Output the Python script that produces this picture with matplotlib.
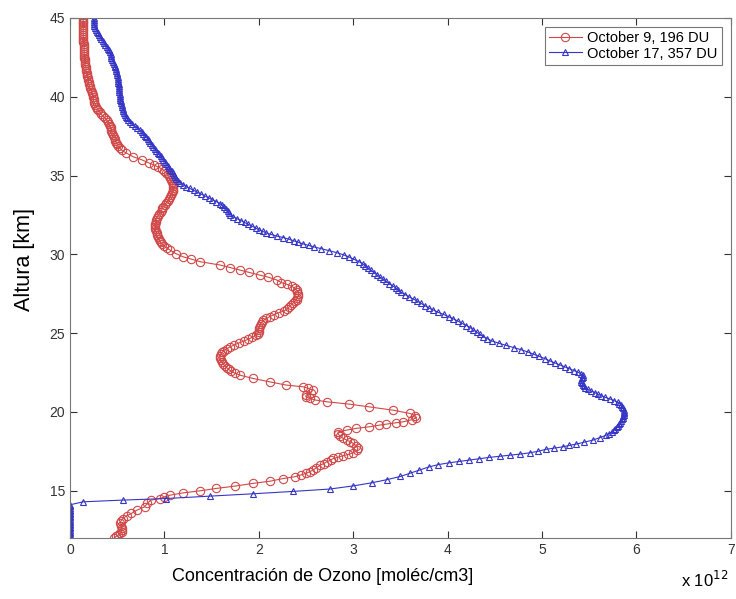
import matplotlib
matplotlib.use('Agg')
import matplotlib.pyplot as plt

plt.rcParams['font.family'] = ['Liberation Sans', 'DejaVu Sans']

# October 9, 196 DU  (altitude km, concentration x1e12)
alt_oct9 = [12.0, 12.1, 12.17, 12.28, 12.4, 12.5, 12.6, 12.75, 12.92, 13.08,
            13.23, 13.4, 13.55, 13.76, 13.97, 14.2, 14.4, 14.5, 14.6, 14.71,
            14.86, 14.99, 15.14, 15.29, 15.46, 15.6, 15.77, 15.88, 16.0, 16.1,
            16.2, 16.3, 16.45, 16.62, 16.72, 16.83, 16.94, 17.04, 17.12, 17.21,
            17.3, 17.4, 17.55, 17.68, 17.85, 18.0, 18.1, 18.21, 18.33, 18.46,
            18.6, 18.73, 18.84, 18.95, 19.05, 19.15, 19.22, 19.3, 19.37, 19.5,
            19.62, 19.75, 19.9, 20.11, 20.32, 20.49, 20.64, 20.75, 20.85, 20.95,
            21.06, 21.2, 21.38, 21.5, 21.59, 21.7, 21.9, 22.12,
            22.33, 22.45, 22.57, 22.69, 22.81, 22.93, 23.05, 23.17, 23.29, 23.41,
            23.53, 23.65, 23.77, 23.89, 24.01, 24.13, 24.25, 24.37, 24.49, 24.61,
            24.73, 24.85, 24.97, 25.09, 25.21, 25.33, 25.45, 25.57, 25.69, 25.81,
            25.93, 26.05, 26.17, 26.29, 26.41, 26.53, 26.65, 26.77, 26.89, 27.01,
            27.13, 27.25, 27.37, 27.49, 27.61, 27.73, 27.85, 27.97, 28.09, 28.2,
            28.37, 28.55, 28.68, 28.85, 29.0, 29.15, 29.32, 29.53, 29.7, 29.84,
            30.05, 30.27, 30.39, 30.51, 30.63, 30.75, 30.87, 30.99, 31.11, 31.23,
            31.35, 31.47, 31.59, 31.71, 31.83, 31.95, 32.07, 32.19, 32.31, 32.43,
            32.55, 32.67, 32.79, 32.91, 33.03, 33.15, 33.27, 33.39, 33.51, 33.63,
            33.75, 33.87, 33.99, 34.11, 34.23, 34.35, 34.47, 34.59, 34.71, 34.83,
            34.95, 35.07, 35.19, 35.31, 35.43, 35.55, 35.67, 35.79, 36.0, 36.19,
            36.45, 36.6, 36.73, 36.85, 36.97, 37.09, 37.21, 37.33, 37.45, 37.57,
            37.69, 37.81, 37.93, 38.05, 38.17, 38.29, 38.41, 38.53, 38.65, 38.77,
            38.89, 39.01, 39.13, 39.25, 39.37, 39.49, 39.61, 39.73, 39.85, 39.97,
            40.09, 40.21, 40.33, 40.45, 40.57, 40.69, 40.81, 40.93, 41.05, 41.17,
            41.29, 41.41, 41.53, 41.65, 41.77, 41.89, 42.01, 42.13, 42.25, 42.37,
            42.49, 42.61, 42.73, 42.85, 42.97, 43.09, 43.21, 43.33, 43.45, 43.57,
            43.69, 43.81, 43.93, 44.05, 44.17, 44.29, 44.41, 44.53, 44.65, 44.77,
            44.89, 45.0]
conc_oct9 = [0.47, 0.49, 0.51, 0.53, 0.55, 0.55, 0.55, 0.54, 0.53, 0.54,
             0.56, 0.60, 0.65, 0.71, 0.79, 0.82, 0.86, 0.95, 1.00, 1.06,
             1.20, 1.38, 1.55, 1.75, 1.94, 2.12, 2.26, 2.38, 2.45, 2.50,
             2.54, 2.57, 2.61, 2.65, 2.69, 2.72, 2.76, 2.79, 2.84, 2.89,
             2.95, 3.00, 3.04, 3.05, 3.03, 3.00, 2.97, 2.93, 2.89, 2.86,
             2.84, 2.84, 2.93, 3.03, 3.17, 3.27, 3.35, 3.45, 3.53, 3.62,
             3.67, 3.66, 3.60, 3.42, 3.17, 2.96, 2.72, 2.60, 2.54, 2.50,
             2.50, 2.55, 2.57, 2.52, 2.47, 2.29, 2.12, 1.94,
             1.80, 1.75, 1.71, 1.68, 1.66, 1.64, 1.62, 1.61, 1.60, 1.59,
             1.59, 1.60, 1.61, 1.63, 1.66, 1.70, 1.74, 1.79, 1.84, 1.89,
             1.93, 1.97, 1.99, 2.00, 2.00, 2.00, 2.01, 2.02, 2.03, 2.05,
             2.08, 2.12, 2.16, 2.21, 2.27, 2.30, 2.32, 2.34, 2.36, 2.38,
             2.40, 2.41, 2.42, 2.42, 2.41, 2.40, 2.38, 2.35, 2.30, 2.24,
             2.19, 2.10, 2.01, 1.90, 1.80, 1.70, 1.59, 1.38, 1.28, 1.20,
             1.12, 1.06, 1.03, 1.00, 0.98, 0.96, 0.95, 0.94, 0.93, 0.92,
             0.92, 0.91, 0.90, 0.90, 0.90, 0.90, 0.91, 0.91, 0.92, 0.93,
             0.94, 0.96, 0.97, 0.98, 0.99, 1.01, 1.02, 1.04, 1.05, 1.06,
             1.07, 1.08, 1.09, 1.09, 1.09, 1.09, 1.09, 1.08, 1.07, 1.06,
             1.05, 1.04, 1.02, 1.00, 0.97, 0.93, 0.89, 0.84, 0.76, 0.67,
             0.59, 0.55, 0.53, 0.51, 0.50, 0.49, 0.48, 0.48, 0.47, 0.46,
             0.45, 0.44, 0.44, 0.43, 0.42, 0.41, 0.40, 0.39, 0.37, 0.35,
             0.33, 0.32, 0.30, 0.29, 0.28, 0.27, 0.26, 0.25, 0.25, 0.24,
             0.24, 0.23, 0.23, 0.22, 0.21, 0.21, 0.20, 0.20, 0.19, 0.19,
             0.18, 0.18, 0.18, 0.17, 0.17, 0.17, 0.16, 0.16, 0.16, 0.16,
             0.15, 0.15, 0.15, 0.15, 0.15, 0.15, 0.15, 0.15, 0.14, 0.14,
             0.14, 0.14, 0.14, 0.14, 0.14, 0.14, 0.14, 0.14, 0.14, 0.14,
             0.14, 0.14]

# October 17, 357 DU
alt_oct17 = [12.0, 12.1, 12.2, 12.3, 12.4, 12.5, 12.6, 12.7, 12.8, 12.9,
             13.0, 13.1, 13.2, 13.3, 13.4, 13.5, 13.6, 13.7, 13.8, 13.9,
             14.0, 14.1, 14.29, 14.4, 14.5, 14.65, 14.8, 14.95, 15.1, 15.3,
             15.5, 15.7, 15.9, 16.1, 16.3, 16.5, 16.65, 16.77, 16.85, 16.94,
             17.02, 17.11, 17.18, 17.25, 17.32, 17.4, 17.5, 17.62, 17.7, 17.78,
             17.87, 17.95, 18.08, 18.21, 18.36, 18.52, 18.62, 18.72, 18.82, 18.92,
             19.02, 19.12, 19.22, 19.32, 19.42, 19.52, 19.62, 19.72, 19.82, 19.92,
             20.02, 20.12, 20.22, 20.32, 20.42, 20.52, 20.62, 20.72, 20.82, 20.92,
             21.02, 21.12, 21.22, 21.32, 21.42, 21.52, 21.62, 21.72, 21.82, 21.92,
             22.02, 22.12, 22.22, 22.32, 22.42, 22.52, 22.62, 22.74, 22.86, 22.98,
             23.1, 23.24, 23.38, 23.52, 23.66, 23.8, 23.94, 24.08, 24.22, 24.36,
             24.5, 24.64, 24.78, 24.92, 25.06, 25.2, 25.34, 25.48, 25.62, 25.76,
             25.9, 26.04, 26.18, 26.32, 26.46, 26.6, 26.74, 26.88, 27.02, 27.16,
             27.3, 27.44, 27.58, 27.72, 27.86, 28.0, 28.14, 28.28, 28.42, 28.56,
             28.7, 28.84, 28.98, 29.12, 29.26, 29.4, 29.54, 29.68, 29.82, 29.96,
             30.1, 30.24, 30.36, 30.46, 30.56, 30.66, 30.76, 30.86, 30.96, 31.06,
             31.16, 31.26, 31.36, 31.46, 31.56, 31.66, 31.78, 31.9, 32.02, 32.14,
             32.26, 32.38, 32.5, 32.62, 32.74, 32.86, 32.98, 33.1, 33.22, 33.34,
             33.46, 33.58, 33.7, 33.82, 33.94, 34.06, 34.18, 34.3, 34.42, 34.54,
             34.66, 34.78, 34.9, 35.02, 35.14, 35.26, 35.38, 35.5, 35.62, 35.74,
             35.86, 35.98, 36.1, 36.22, 36.34, 36.46, 36.58, 36.7, 36.82, 36.94,
             37.06, 37.18, 37.3, 37.42, 37.54, 37.66, 37.78, 37.9, 38.02, 38.14,
             38.26, 38.38, 38.5, 38.62, 38.74, 38.86, 38.98, 39.1, 39.22, 39.34,
             39.46, 39.58, 39.7, 39.82, 39.94, 40.06, 40.18, 40.3, 40.42, 40.54,
             40.66, 40.78, 40.9, 41.02, 41.14, 41.26, 41.38, 41.5, 41.62, 41.74,
             41.86, 41.98, 42.1, 42.22, 42.34, 42.46, 42.58, 42.7, 42.82, 42.94,
             43.06, 43.18, 43.3, 43.42, 43.54, 43.66, 43.78, 43.9, 44.02, 44.14,
             44.26, 44.38, 44.5, 44.62, 44.74, 44.86, 45.0]
conc_oct17 = [0.0, 0.0, 0.0, 0.0, 0.0, 0.0, 0.0, 0.0, 0.0, 0.0,
              0.0, 0.0, 0.0, 0.0, 0.0, 0.0, 0.0, 0.0, 0.0, 0.0,
              0.0, 0.0, 0.14, 0.56, 1.02, 1.48, 1.94, 2.36, 2.75, 3.00,
              3.20, 3.36, 3.50, 3.60, 3.70, 3.80, 3.90, 4.02, 4.12, 4.23,
              4.33, 4.44, 4.55, 4.66, 4.77, 4.87, 4.96, 5.04, 5.13, 5.22,
              5.29, 5.36, 5.45, 5.54, 5.61, 5.68, 5.71, 5.74, 5.76, 5.77,
              5.79, 5.80, 5.82, 5.83, 5.84, 5.85, 5.86, 5.86, 5.87, 5.87,
              5.87, 5.87, 5.86, 5.85, 5.84, 5.82, 5.80, 5.76, 5.72, 5.67,
              5.63, 5.59, 5.56, 5.52, 5.49, 5.46, 5.44, 5.43, 5.42, 5.41,
              5.41, 5.42, 5.43, 5.43, 5.41, 5.38, 5.34, 5.29, 5.24, 5.19,
              5.14, 5.08, 5.03, 4.97, 4.91, 4.85, 4.78, 4.70, 4.62, 4.54,
              4.47, 4.42, 4.38, 4.34, 4.31, 4.27, 4.24, 4.20, 4.15, 4.11,
              4.06, 4.01, 3.96, 3.90, 3.85, 3.80, 3.76, 3.72, 3.68, 3.64,
              3.59, 3.55, 3.51, 3.48, 3.45, 3.42, 3.38, 3.35, 3.32, 3.28,
              3.25, 3.22, 3.19, 3.16, 3.13, 3.10, 3.06, 3.01, 2.96, 2.90,
              2.83, 2.74, 2.66, 2.59, 2.53, 2.47, 2.42, 2.37, 2.32, 2.26,
              2.19, 2.13, 2.08, 2.04, 2.00, 1.97, 1.93, 1.89, 1.85, 1.81,
              1.77, 1.73, 1.70, 1.68, 1.67, 1.65, 1.63, 1.61, 1.59, 1.55,
              1.51, 1.47, 1.43, 1.39, 1.35, 1.31, 1.27, 1.23, 1.20, 1.17,
              1.14, 1.12, 1.11, 1.10, 1.09, 1.08, 1.06, 1.05, 1.04, 1.02,
              1.01, 0.99, 0.97, 0.96, 0.94, 0.93, 0.91, 0.90, 0.88, 0.87,
              0.85, 0.84, 0.83, 0.81, 0.79, 0.77, 0.76, 0.74, 0.71, 0.69,
              0.66, 0.64, 0.62, 0.60, 0.59, 0.58, 0.57, 0.56, 0.56, 0.55,
              0.55, 0.54, 0.54, 0.53, 0.53, 0.53, 0.53, 0.52, 0.52, 0.52,
              0.52, 0.52, 0.51, 0.51, 0.51, 0.51, 0.50, 0.50, 0.49, 0.49,
              0.48, 0.48, 0.47, 0.46, 0.45, 0.44, 0.44, 0.43, 0.42, 0.41,
              0.40, 0.39, 0.37, 0.36, 0.35, 0.33, 0.32, 0.31, 0.30, 0.29,
              0.28, 0.27, 0.26, 0.26, 0.25, 0.25, 0.25]

RED = '#d04848'
BLUE = '#3636c6'

fig = plt.figure(figsize=(7.36, 5.99), dpi=100)
ax = fig.add_axes([0.095, 0.102, 0.898, 0.868])

ax.plot(conc_oct9, alt_oct9, '-o', color=RED, mfc='none', mec=RED,
        ms=6, mew=0.8, lw=0.8, label='October 9, 196 DU')
ax.plot(conc_oct17, alt_oct17, '-^', color=BLUE, mfc='none', mec=BLUE,
        ms=4.8, mew=0.8, lw=0.8, label='October 17, 357 DU')

ax.set_xlim(0, 7)
ax.set_ylim(12, 45)
ax.set_xticks(range(0, 8))
ax.set_yticks(range(15, 46, 5))
ax.tick_params(direction='in', top=True, right=True, length=5,
               labelsize=10, colors='#333333')
for s in ax.spines.values():
    s.set_color('#777777')

ax.set_xlabel('Concentración de Ozono [moléc/cm3]', fontsize=13)
ax.xaxis.set_label_coords(0.382, -0.058)
ax.set_ylabel('Altura [km]', fontsize=15.5)
ax.yaxis.set_label_coords(-0.053, 0.535)
fig.text(0.925, 0.02, r'x 10$^{12}$', fontsize=12)

leg = ax.legend(loc='upper right', fontsize=10.5, fancybox=False,
                framealpha=1, edgecolor='#777777', handlelength=2.2,
                handletextpad=0.4, borderaxespad=0.6, labelspacing=0.1,
                borderpad=0.3)
leg.get_frame().set_linewidth(0.8)

fig.savefig('out.png', dpi=100)
